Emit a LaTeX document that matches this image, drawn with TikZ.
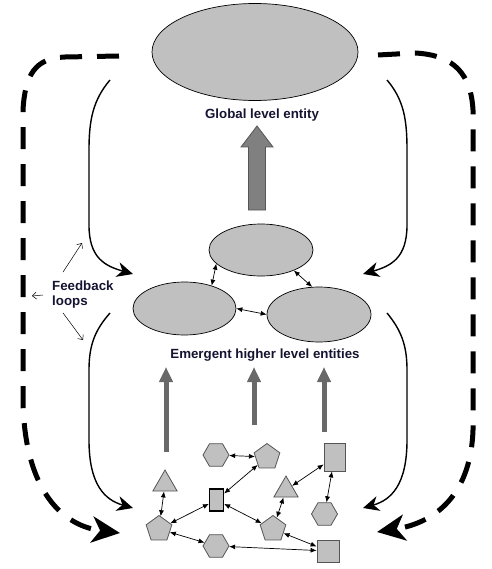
\documentclass[tikz,border=0pt]{standalone}
\usepackage{fontspec}
\setmainfont{Liberation Sans}
\usetikzlibrary{arrows.meta,shapes.geometric}

\definecolor{shapegray}{RGB}{192,192,192}
\definecolor{edgegray}{RGB}{85,85,85}
\definecolor{risegray}{RGB}{105,105,105}
\definecolor{textnavy}{RGB}{20,20,50}

\begin{document}
\begin{tikzpicture}[x=1pt, y=-1pt,
  entity/.style={ellipse, draw, fill=shapegray, inner sep=0pt, line width=0.7pt},
  agent/.style={draw=edgegray, fill=shapegray, inner sep=0pt, line width=0.8pt},
  hexa/.style={agent, regular polygon, regular polygon sides=6, minimum size=26pt},
  penta/.style={agent, regular polygon, regular polygon sides=5, minimum size=27pt},
  tri/.style={agent, regular polygon, regular polygon sides=3, minimum size=28pt},
  cell/.style={agent, rectangle},
  levelname/.style={font=\fontsize{13.3}{15}\selectfont\bfseries, text=textnavy},
  link/.style={{Latex[length=6pt,width=5pt]}-{Latex[length=6pt,width=5pt]}, line width=0.7pt},
  loopline/.style={-{Stealth[length=16pt,width=15pt,inset=5pt]}, line width=1.4pt},
  outerloop/.style={-{Stealth[length=28pt,width=26pt,inset=8pt]}, line width=5pt, dash pattern=on 22pt off 15pt},
  pointer/.style={-{Straight Barb[length=4pt,width=7pt]}, line width=0.5pt},
  rise/.style={-{Triangle[length=15pt,width=13pt]}, line width=5pt, draw=risegray},
  bigarrow/.style={draw=edgegray, fill=gray, line width=0.8pt}
]
  \useasboundingbox (0,0) rectangle (491,569);

  % global and emergent levels
  \node[entity, minimum width=206pt, minimum height=97pt] (global) at (255,52) {};
  \node[levelname] (globaltext) at (262,115) {Global level entity};
  \node[entity, minimum width=104pt, minimum height=52pt] (midtop) at (261,250) {};
  \node[entity, minimum width=103pt, minimum height=53pt] (midleft) at (184.5,308.5) {};
  \node[entity, minimum width=104pt, minimum height=55pt] (midright) at (319,314.5) {};
  \node[levelname] (emergent) at (265,355) {Emergent higher level entities};
  \node[levelname, anchor=west, align=left, inner sep=0pt] (feedback) at (52,295) {Feedback\\loops};

  \draw[bigarrow] (248.5,210) -- (248.5,147) -- (241,147) -- (257,126) -- (273,147)
    -- (265.5,147) -- (265.5,210) -- cycle;

  \draw[link] (midtop.197) -- (midleft.40);
  \draw[link] (midtop.328) -- (midright.104);
  \draw[link] (midleft.east) -- (midright.west);

  % local agents
  \node[hexa] (hexa1) at (216,455) {};
  \node[penta] (penta1) at (267,457) {};
  \node[cell, minimum width=21pt, minimum height=28pt] (rect1) at (334.5,457) {};
  \node[tri] (tri1) at (165,484) {};
  \node[cell, draw=black, line width=1.2pt, minimum width=14pt, minimum height=22pt] (rect2) at (216.5,500) {};
  \node[tri] (tri2) at (286,490) {};
  \node[hexa] (hexa2) at (324.5,514) {};
  \node[penta] (penta2) at (159,529) {};
  \node[penta] (penta3) at (273,529) {};
  \node[hexa] (hexa3) at (216,546) {};
  \node[cell, minimum width=22pt, minimum height=22pt] (square1) at (328,551) {};

  \draw[link] (hexa1) -- (penta1);
  \draw[link] (penta1) -- (rect2);
  \draw[link] (rect1) -- (tri2);
  \draw[link] (rect1) -- (hexa2);
  \draw[link] (tri1) -- (penta2);
  \draw[link] (rect2) -- (penta2);
  \draw[link] (rect2) -- (penta3);
  \draw[link] (tri2) -- (penta3);
  \draw[link] (penta3) -- (square1);
  \draw[link] (penta2) -- (hexa3);
  \draw[link] (hexa3) -- (square1);

  % upward emergence
  \coordinate (rise1a) at (166,452);
  \coordinate (rise1b) at (166,367);
  \coordinate (rise2a) at (254,425);
  \coordinate (rise2b) at (254,367);
  \coordinate (rise3a) at (324,432);
  \coordinate (rise3b) at (324,367);
  \draw[rise] (rise1a) -- (rise1b);
  \draw[rise] (rise2a) -- (rise2b);
  \draw[rise] (rise3a) -- (rise3b);

  % feedback loops
  \coordinate (loopA1) at (110,80);   \coordinate (loopA2) at (133,274);
  \coordinate (loopB1) at (387,80);   \coordinate (loopB2) at (363,274);
  \coordinate (loopC1) at (110,313);  \coordinate (loopC2) at (133,508);
  \coordinate (loopD1) at (387,313);  \coordinate (loopD2) at (363,508);
  \draw[loopline] (loopA1) .. controls (93,100) and (89,120) .. (89,150) -- (89,225)
    .. controls (89,258) and (105,266) .. (loopA2);
  \draw[loopline] (loopB1) .. controls (404,100) and (407,120) .. (407,150) -- (407,225)
    .. controls (407,258) and (391,266) .. (loopB2);
  \draw[loopline] (loopC1) .. controls (95,330) and (89,345) .. (89,370) -- (89,440)
    .. controls (89,485) and (105,500) .. (loopC2);
  \draw[loopline] (loopD1) .. controls (401,330) and (407,345) .. (407,370) -- (407,440)
    .. controls (407,485) and (391,500) .. (loopD2);

  \coordinate (outerL1) at (119,56);  \coordinate (outerL2) at (120,533);
  \coordinate (outerR1) at (378,55);  \coordinate (outerR2) at (377,532);
  \draw[outerloop] (outerL1) -- (65,57) .. controls (35,58) and (25,75) .. (23,110)
    -- (23,400) .. controls (24,480) and (55,525) .. (outerL2);
  \draw[outerloop] (outerR1) -- (415,53) .. controls (455,55) and (471,75) .. (473,110)
    -- (473,430) .. controls (471,490) and (440,522) .. (outerR2);

  \coordinate (fbup) at (82,243);
  \coordinate (fbleft) at (32,296);
  \coordinate (fbdown) at (83,340);
  \draw[pointer] ([xshift=11pt,yshift=9pt]feedback.north west) -- (fbup);
  \draw[pointer] ([xshift=-9pt]feedback.west) -- (fbleft);
  \draw[pointer] ([xshift=11pt,yshift=-4pt]feedback.south west) -- (fbdown);
\end{tikzpicture}
\end{document}
